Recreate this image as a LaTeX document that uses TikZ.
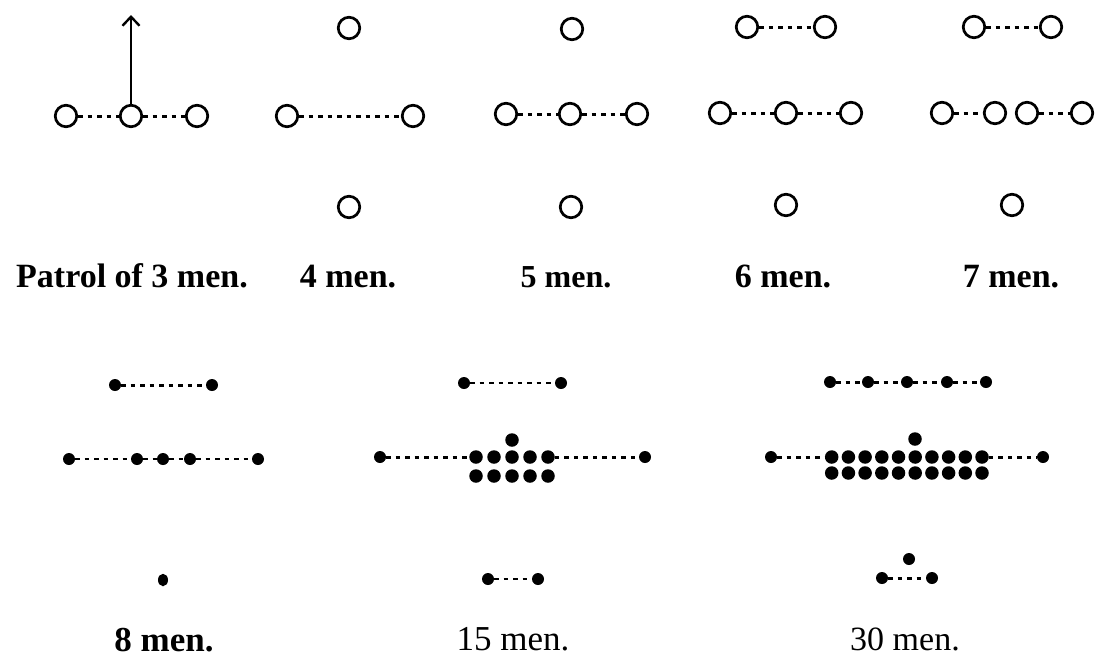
\documentclass[tikz,border=0pt]{standalone}
\usepackage{fontspec}
\setmainfont{Liberation Serif}
\usetikzlibrary{arrows.meta,shapes.geometric}
\begin{document}
\begin{tikzpicture}[x=1pt,y=-1pt,
  man/.style={circle,draw,line width=2.7pt,minimum size=21.5pt,inner sep=0pt},
  dot/.style={circle,fill,minimum size=12pt,inner sep=0pt},
  cdot/.style={circle,fill,minimum size=13.5pt,inner sep=0pt},
  link/.style={line width=3pt,dash pattern=on 4.5pt off 5pt},
  thinlink/.style={line width=2.2pt,dash pattern=on 4.5pt off 5pt},
  lblb/.style={anchor=base,inner sep=0pt,font=\fontsize{34}{40}\selectfont\bfseries},
  lblr/.style={anchor=base,inner sep=0pt,font=\fontsize{34}{40}\selectfont}]
\useasboundingbox (0,0) rectangle (1095,657);

% ---- Patrol of 3 men
\node[man] (p1) at (66,116) {};
\node[man] (p2) at (131,116) {};
\node[man] (p3) at (197,116) {};
\coordinate (ptip) at (131,15);
\draw[link] (p1) -- (p2);
\draw[link] (p2) -- (p3);
\draw[line width=2.4pt,-{Straight Barb[length=9pt,width=17pt,line width=2.4pt]}] (p2) -- (ptip);
\node[lblb] (l3) at (132,287) {Patrol of 3 men.};

% ---- 4 men
\node[man] (at) at (349,28) {};
\node[man] (al) at (287,116) {};
\node[man] (ar) at (413,116) {};
\node[man] (ab) at (349,207) {};
\draw[link] (al) -- (ar);
\node[lblb] (l4) at (348,287) {4 men.};

% ---- 5 men
\node[man] (bt) at (572,29) {};
\node[man] (bl) at (506,114) {};
\node[man] (bm) at (570,114) {};
\node[man] (br) at (637,114) {};
\node[man] (bb) at (571,207) {};
\draw[link] (bl) -- (bm);
\draw[link] (bm) -- (br);
\node[lblb,font=\fontsize{32}{38}\selectfont\bfseries] (l5) at (566,287) {5 men.};

% ---- 6 men
\node[man] (ctl) at (747,27) {};
\node[man] (ctr) at (825,27) {};
\node[man] (cl) at (720,113) {};
\node[man] (cm) at (786,113) {};
\node[man] (cr) at (851,113) {};
\node[man] (cb) at (786,205) {};
\draw[link] (ctl) -- (ctr);
\draw[link] (cl) -- (cm);
\draw[link] (cm) -- (cr);
\node[lblb] (l6) at (783,287) {6 men.};

% ---- 7 men
\node[man] (dtl) at (974,27) {};
\node[man] (dtr) at (1051,27) {};
\node[man] (d1) at (942,113) {};
\node[man] (d2) at (995,113) {};
\node[man] (d3) at (1027,113) {};
\node[man] (d4) at (1082,113) {};
\node[man] (db) at (1012,205) {};
\draw[link] (dtl) -- (dtr);
\draw[link] (d1) -- (d2);
\draw[link] (d3) -- (d4);
\node[lblb] (l7) at (1011,287) {7 men.};

% ---- 8 men
\node[dot] (etl) at (115,385) {};
\node[dot] (etr) at (212,385) {};
\node[dot] (e1) at (69,459) {};
\node[dot] (e2) at (137,459) {};
\node[dot] (e3) at (163,459) {};
\node[dot] (e4) at (190,459) {};
\node[dot] (e5) at (258,459) {};
\node[ellipse,fill,inner sep=0pt,minimum width=10pt,minimum height=12.5pt] (eb) at (163,580) {};
\draw[link] (etl) -- (etr);
\draw[thinlink] (e1) -- (e2);
\draw[thinlink] (e2) -- (e3);
\draw[thinlink] (e3) -- (e4);
\draw[thinlink] (e4) -- (e5);
\node[lblb,font=\fontsize{35}{40}\selectfont\bfseries] (l8) at (164,651) {8 men.};

% ---- 15 men
\node[dot] (ftl) at (464,383) {};
\node[dot] (ftr) at (561,383) {};
\node[dot] (fl) at (380,457) {};
\node[dot] (fr) at (645,457) {};
\foreach \i in {1,...,5} {
  \node[cdot] (fa\i) at ({458+18*\i},457) {};
  \node[cdot] (fb\i) at ({458+18*\i},476) {};
}
\node[cdot] (fx) at (512,440) {};
\node[dot] (fbl) at (488,579) {};
\node[dot] (fbr) at (538,579) {};
\draw[thinlink] (ftl) -- (ftr);
\draw[link] (fl) -- (fa1);
\draw[link] (fa5) -- (fr);
\draw[thinlink] (fbl) -- (fbr);
\node[lblr,font=\fontsize{35}{40}\selectfont] (l15) at (513,650) {15 men.};

% ---- 30 men
\foreach \i [count=\k] in {830,868,907,947,986} {
  \node[dot] (gt\k) at (\i,382) {};
}
\draw[link] (gt1) -- (gt2);
\draw[link] (gt2) -- (gt3);
\draw[link] (gt3) -- (gt4);
\draw[link] (gt4) -- (gt5);
\node[dot] (gl) at (771,457) {};
\node[dot] (gr) at (1043,457) {};
\foreach \i in {1,...,10} {
  \node[cdot] (ga\i) at ({815+16.7*\i},457) {};
  \node[cdot] (gb\i) at ({815+16.7*\i},473) {};
}
\node[cdot] (gx) at (915,439) {};
\draw[link] (gl) -- (ga1);
\draw[link] (ga10) -- (gr);
\node[dot] (gbx) at (909,559) {};
\node[dot] (gbl) at (882,578) {};
\node[dot] (gbr) at (932,578) {};
\draw[link] (gbl) -- (gbr);
\node[lblr] (l30) at (905,650) {30 men.};
\end{tikzpicture}
\end{document}
